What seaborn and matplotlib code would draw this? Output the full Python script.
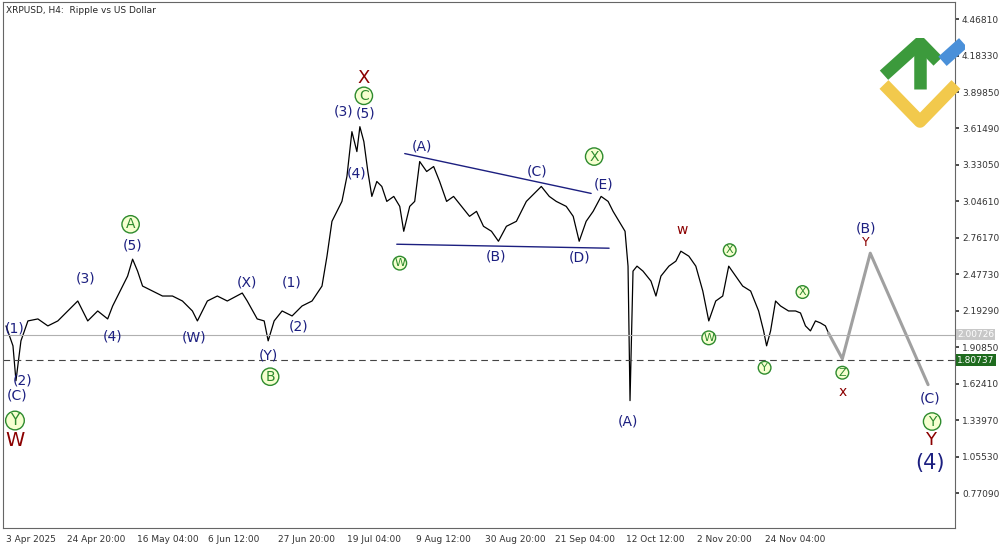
import matplotlib
matplotlib.use("Agg")
import matplotlib.pyplot as plt
import seaborn as sns
import pandas as pd

sns.set_theme(style="white")
plt.rcParams['font.family'] = ['DejaVu Sans']

# price path (bar position, close)
bar = [3,10,13,18,25,35,45,55,65,75,85,95,105,110,120,125,130,135,140,150,160,170,180,190,195,205,215,225,240,245,255,262,266,272,280,290,300,310,320,325,330,335,340,345,350,355,358,362,366,370,375,380,385,392,398,402,408,413,418,425,432,438,445,452,460,468,475,482,490,497,505,515,525,535,540,548,555,565,572,578,585,592,600,607,612,618,624,627,629,632,636,642,650,655,660,668,675,680,688,695,702,708,715,722,728,735,742,750,758,763,766,770,775,780,788,795,800,805,810,815,820,825,828]
ypx = [325,345,380,340,320,318,325,320,310,300,320,310,318,305,285,275,258,270,285,290,295,295,300,310,320,300,295,300,292,300,318,320,340,320,310,315,305,300,285,255,220,210,200,175,130,150,125,140,170,195,180,185,200,195,205,230,205,200,160,170,165,180,200,195,205,215,210,225,230,240,225,220,200,190,185,195,200,205,215,240,220,210,195,200,210,220,230,265,400,270,265,270,280,295,275,265,260,250,255,265,290,320,300,295,265,275,285,290,310,330,345,330,300,305,310,310,312,325,330,320,322,325,332]
def p2v(y): return 4.4681 - (y - 17) * 0.2844 / 36.6
price = [p2v(y) for y in ypx]
proj_bar = [828, 842, 870, 928]
proj_price = [p2v(y) for y in [332, 358, 252, 384]]

yticks = [4.46810,4.18330,3.89850,3.61490,3.33050,3.04610,2.76170,2.47730,2.19290,1.90850,1.62410,1.33970,1.05530,0.77090]
xtick_pos = [3,93,165,231,304,372,442,514,584,654,724,795]
xtick_lab = ["3 Apr 2025","24 Apr 20:00","16 May 04:00","6 Jun 12:00","27 Jun 20:00","19 Jul 04:00",
             "9 Aug 12:00","30 Aug 20:00","21 Sep 04:00","12 Oct 12:00","2 Nov 20:00","24 Nov 04:00"]

NAVY, RED, GREEN = "#1c1f80", "#8b0000", "#2e8b2e"
labels = [(12,328,'(1)','n',10),(20,380,'(2)','n',10),(14,395,'(C)','n',10),(12,420,'Y','c',11),(12,440,'W','r',14),
 (83,277,'(3)','n',10),(110,336,'(4)','n',10),(130,244,'(5)','n',10),(128,223,'A','c',10),(192,337,'(W)','n',10),
 (245,281,'(X)','n',10),(266,355,'(Y)','n',10),(268,376,'B','c',10),(290,281,'(1)','n',10),(296,326,'(2)','n',10),
 (342,110,'(3)','n',10),(364,112,'(5)','n',10),(355,172,'(4)','n',10),(362,94,'C','c',10),(362,76,'X','r',13),
 (398,262,'W','c',8),(420,145,'(A)','n',10),(495,255,'(B)','n',10),(536,170,'(C)','n',10),(578,256,'(D)','n',10),
 (602,183,'(E)','n',10),(593,155,'X','c',10),(627,421,'(A)','n',10),(681,229,'w','r',10),(708,337,'W','c',8),
 (729,249,'X','c',8),(764,367,'Y','c',8),(802,291,'X','c',8),(842,372,'Z','c',8),(842,391,'x','r',10),
 (866,227,'(B)','n',10),(866,241,'Y','r',9),(930,398,'(C)','n',10),(932,421,'Y','c',10),(930,440,'Y','r',13),(930,463,'(4)','n',15)]

fig = plt.figure(figsize=(10, 5.45), dpi=100)
ax = fig.add_axes([0.003, 0.031, 0.952, 0.965])
df = pd.DataFrame({"bar": bar, "price": price})
sns.lineplot(data=df, x="bar", y="price", ax=ax, color="black", lw=0.9)
ax.plot(proj_bar, proj_price, color="#a0a0a0", lw=2.2)
ax.axhline(2.00726, color="#b0b0b0", lw=0.8)
ax.axhline(1.80737, color="#444444", lw=0.8, ls=(0, (6, 4)))
ax.plot([403, 590], [p2v(152), p2v(192)], color=NAVY, lw=1)
ax.plot([395, 608], [p2v(243), p2v(247)], color=NAVY, lw=1)

for x, y, t, s, fs in labels:
    if s == 'n':
        ax.text(x, p2v(y), t, color=NAVY, fontsize=fs, ha='center', va='center')
    elif s == 'r':
        ax.text(x, p2v(y), t, color=RED, fontsize=fs, ha='center', va='center')
    else:
        ax.text(x, p2v(y), t, color=GREEN, fontsize=fs, ha='center', va='center',
                bbox=dict(boxstyle='circle,pad=0.12', fc='#f6ffd0', ec=GREEN, lw=1))

ax.set_xlim(0, 955)
ax.set_ylim(p2v(528), p2v(0))
ax.yaxis.tick_right()
ax.set_yticks(yticks)
ax.set_yticklabels([f"{v:.5f}" for v in yticks], fontsize=6.5)
ax.set_xticks(xtick_pos)
ax.set_xticklabels(xtick_lab, fontsize=6.5)
ax.tick_params(axis='both', length=3, pad=2, colors='#333333')
ax.set_xlabel(""); ax.set_ylabel("")
for sp in ax.spines.values():
    sp.set_color('#666666'); sp.set_linewidth(0.8)

for val, txt, fc, tc in [(2.00726, "2.00726", "#c8c8c8", "white"), (1.80737, "1.80737", "#1e6b1e", "white")]:
    ax.text(1.002, val, txt, transform=ax.get_yaxis_transform(), fontsize=6.5, color=tc,
            va='center', ha='left', bbox=dict(boxstyle='square,pad=0.15', fc=fc, ec='none'))

ax.text(0.003, 0.993, "XRPUSD, H4:  Ripple vs US Dollar", transform=ax.transAxes, fontsize=6.5, va='top')

# logo
lg = fig.add_axes([0.875, 0.76, 0.09, 0.17])
lg.set_xlim(0, 10); lg.set_ylim(0, 10); lg.axis('off')
lg.plot([1, 5, 9], [5, 1, 5], color="#f2c94c", lw=9, solid_capstyle='butt')
lg.plot([1, 5, 7], [6, 9.5, 7.5], color="#3c9a3c", lw=9, solid_capstyle='butt')
lg.plot([5, 5], [4.5, 9.5], color="#3c9a3c", lw=9, solid_capstyle='butt')
lg.plot([7.5, 9.8], [7.5, 9.5], color="#4a90d9", lw=9, solid_capstyle='butt')

fig.canvas.draw()
ax.get_xticklabels()[0].set_ha('left')
fig.savefig("out.png", dpi=100)
